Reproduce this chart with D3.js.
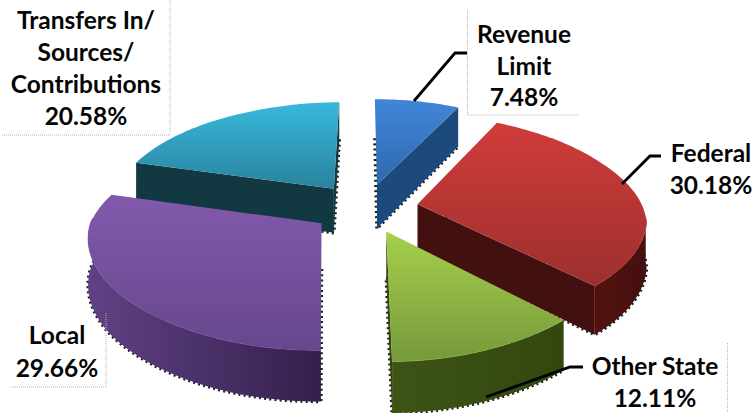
<!DOCTYPE html>
<html>
<head>
<meta charset="utf-8">
<style>
html,body{margin:0;padding:0;background:#fff;}
svg{display:block;}
text{font-family:Lato,"Open Sans",sans-serif;font-weight:700;fill:#050505;}
</style>
<script src="https://cdn.jsdelivr.net/npm/d3@7/dist/d3.min.js"></script>
</head>
<body>
<script>
// Revenue shares, in pie order starting from twelve o'clock
const categories = ["Revenue Limit", "Federal", "Other State", "Local", "Transfers In/Sources/Contributions"];
const shares = [7.48, 30.18, 12.11, 29.66, 20.58];
const labelLines = [["Revenue", "Limit"], ["Federal"], ["Other State"], ["Local"], ["Transfers In/", "Sources/", "Contributions"]];
const topColors = [["#4286d8", "#2f68ad"], ["#d03c3a", "#9c302e"], ["#a6d04c", "#76993a"], ["#8259ad", "#66478c"], ["#38b8dc", "#29839e"]];
const wallColors = [["#2a62a0", "#1d4a7c"], ["#52130f", "#431010"], ["#3e5416", "#33470f"], ["#5f4285", "#351f4c"], ["#143f4b", "#123842"]];

const W = 753, H = 413;
const svg = d3.select("body").append("svg").attr("width", W).attr("height", H);
const defs = svg.append("defs");

// Oblique view of the pie: ground-plane coordinates map to the page with foreshortening
const view = {cx: 365, cy: 208, ry: 104, py: 0.143, lift: 45, explode: 0.237};
const widthAtDepth = d3.scaleLinear()
  .domain([-1.2, -0.93, -0.47, 0.14, 0.68, 0.93, 1.25])
  .range([180, 192, 207, 231, 246, 251, 256]);
const sy = d3.scaleLinear().domain([0, 1]).range([view.cy, view.cy + view.ry]);
function project(X, Y, drop) {
  const px = view.cx + X * widthAtDepth(Y);
  const py = sy(Y / (1 - view.py * Y));
  return [px, py + (drop ? view.lift * (1 + 0.12 * Y) : 0)];
}

const line = d3.line();
const arcs = d3.pie().sort(null).value(d => d)(shares);

const slices = arcs.map((a, i) => {
  const mid = (a.startAngle + a.endAngle) / 2;
  const ox = view.explode * Math.sin(mid), oy = -view.explode * Math.cos(mid);
  const at = (ang, r) => [ox + r * Math.sin(ang), oy - r * Math.cos(ang)];
  return {i, a, mid, oy, at};
});

// Sample an arc of the slice rim
function rim(s, a0, a1) {
  const n = Math.max(2, Math.ceil((a1 - a0) / 0.02));
  return d3.range(n + 1).map(k => s.at(a0 + (a1 - a0) * k / n, 1));
}

function gradient(id, colors, horizontal) {
  const g = defs.append("linearGradient").attr("id", id)
    .attr("x1", 0).attr("y1", 0).attr("x2", horizontal ? 1 : 0).attr("y2", horizontal ? 0 : 1);
  g.append("stop").attr("offset", 0).attr("stop-color", colors[0]);
  g.append("stop").attr("offset", 1).attr("stop-color", colors[1]);
}
topColors.forEach((c, i) => gradient("top" + i, c, false));
wallColors.forEach((c, i) => gradient("wall" + i, c, true));

// Paint slices from the back of the pie to the front
const order = slices.slice().sort((p, q) => p.oy - q.oy);
order.forEach(s => {
  const g = svg.append("g");
  const {a, i} = s;
  const apex = s.at(0, 0);
  const edge = rim(s, a.startAngle, a.endAngle);
  const outline = [apex, ...edge, apex];

  // speckled silhouette around the underside
  g.append("path")
    .attr("d", line(outline.map(p => project(p[0], p[1], true))))
    .attr("fill", "none").attr("stroke", "#1c1c1c").attr("stroke-width", 3.4)
    .attr("stroke-dasharray", "2 3.2");

  // radial walls facing the viewer
  const radial = ang => {
    const end = s.at(ang, 1);
    const quad = [project(apex[0], apex[1]), project(end[0], end[1]), project(end[0], end[1], true), project(apex[0], apex[1], true)];
    g.append("path").attr("d", line(quad) + "Z").attr("fill", wallColors[i][1]);
  };
  if (Math.sin(a.startAngle) < 0) radial(a.startAngle);
  if (Math.sin(a.endAngle) > 0) radial(a.endAngle);

  // curved outer wall on the near half
  const w0 = Math.max(a.startAngle, Math.PI / 2 + 0.12), w1 = Math.min(a.endAngle, 3 * Math.PI / 2 + 0.05);
  if (w1 > w0) {
    const r = rim(s, w0, w1);
    const face = [...r.map(p => project(p[0], p[1])), ...r.slice().reverse().map(p => project(p[0], p[1], true))];
    g.append("path").attr("d", line(face) + "Z")
      .attr("fill", `url(#wall${i})`);
    // soft highlight along the top rim of the wall
    g.append("path").attr("d", line(r.map(p => project(p[0], p[1]))))
      .attr("fill", "none").attr("stroke", topColors[i][0]).attr("stroke-opacity", 0.7).attr("stroke-width", 1);
  }

  // upper face
  g.append("path").attr("d", line(outline.map(p => project(p[0], p[1]))) + "Z")
    .attr("fill", `url(#top${i})`);
});

// Dotted label frames
const frame = svg.append("g").attr("fill", "none").attr("stroke", "#b5b5b5").attr("stroke-width", 1).attr("stroke-dasharray", "1 1");
[
  [[170, 0], [170, 135], [2, 135]],
  [[467.5, 10], [467.5, 115], [579, 115]],
  [[106, 313], [106, 387], [10, 387]],
  [[727.5, 343], [727.5, 413]]
].forEach(f => frame.append("path").attr("d", line(f)));

// Leader lines
const leaders = svg.append("g").attr("fill", "none").attr("stroke", "#000").attr("stroke-width", 2.8);
[
  [[414, 101], [455, 53], [467, 53]],
  [[622, 184], [650, 156], [661, 156]],
  [[486, 397], [570, 367], [583, 367]]
].forEach(l => leaders.append("path").attr("d", line(l)));

// Category and share labels: [anchor x, first baseline, line pitch, anchor]
const labelSpots = [
  [524, 43, 31.5, "middle"],
  [711, 162, 32, "middle"],
  [655, 375, 32, "middle"],
  [57, 344, 33, "middle"],
  [86, 29, 32, "middle"]
];
labelLines.forEach((lines, i) => {
  const [x, y, step, anchor] = labelSpots[i];
  const t = svg.append("text").attr("text-anchor", anchor).attr("font-size", 24.5);
  [...lines, shares[i].toFixed(2) + "%"].forEach((txt, k) => {
    t.append("tspan").attr("x", x).attr("y", y + k * step).text(txt);
  });
  t.append("title").text(categories[i]);
});
</script>
</body>
</html>
